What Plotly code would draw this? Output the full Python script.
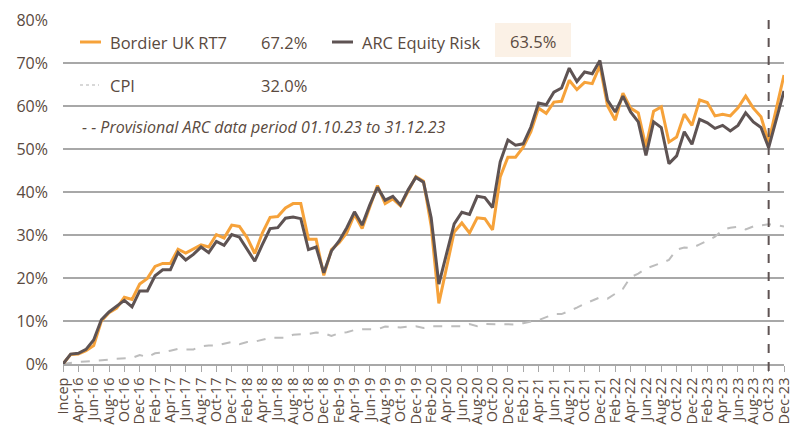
import plotly.graph_objects as go

months = ["Jan", "Feb", "Mar", "Apr", "May", "Jun", "Jul", "Aug", "Sep", "Oct", "Nov", "Dec"]
categories = []
for y in range(2016, 2024):
    for m in range(12):
        if y == 2016 and m == 0:
            continue
        categories.append(f"{months[m]}-{str(y)[2:]}")
categories[0] = "Incep"

bordier = [0.0, 2.2, 2.3, 3.1, 4.3, 10.0, 11.9, 13.0, 15.5, 15.0,
           18.6, 19.9, 22.7, 23.4, 23.4, 26.7, 25.8, 26.7, 27.7, 27.2,
           30.1, 29.3, 32.3, 32.0, 29.4, 25.7, 30.5, 34.1, 34.3, 36.3,
           37.3, 37.3, 29.0, 29.0, 20.6, 26.6, 28.2, 30.5, 34.8, 31.5,
           36.6, 41.5, 37.3, 38.4, 36.8, 40.3, 43.6, 42.5, 32.1, 14.1,
           22.5, 30.7, 32.8, 30.5, 34.0, 33.8, 31.2, 43.5, 48.1, 48.1,
           50.4, 54.0, 59.5, 58.3, 60.9, 61.1, 66.0, 63.8, 65.5, 65.2,
           69.4, 60.0, 56.7, 63.0, 59.5, 58.4, 50.5, 58.8, 59.8, 51.6,
           52.8, 58.1, 55.5, 61.4, 60.8, 57.7, 58.1, 57.7, 59.6, 62.3,
           59.5, 57.5, 51.6, 59.5, 67.2]

arc = [0.0, 2.3, 2.5, 3.4, 5.6, 10.3, 12.1, 13.5, 14.8, 13.3,
       17.0, 17.0, 20.5, 21.9, 21.9, 25.9, 24.2, 25.5, 27.2, 25.9,
       28.5, 27.6, 30.1, 29.5, 26.8, 23.9, 27.8, 31.5, 31.7, 33.9,
       34.2, 33.8, 26.6, 27.2, 21.2, 26.3, 28.6, 31.7, 35.4, 32.3,
       37.0, 41.1, 38.1, 39.0, 37.0, 40.5, 43.4, 42.3, 34.0, 18.6,
       25.6, 32.6, 35.3, 34.8, 39.0, 38.7, 36.4, 47.0, 52.1, 50.9,
       51.2, 55.1, 60.7, 60.3, 63.2, 64.2, 68.8, 65.7, 67.9, 67.5,
       70.6, 61.3, 58.6, 62.3, 58.6, 56.3, 48.5, 56.3, 55.0, 46.6,
       48.4, 54.0, 51.1, 56.9, 56.1, 54.8, 55.5, 54.2, 55.5, 58.4,
       56.3, 55.0, 50.3, 56.7, 63.5]

cpi = [0.0, 0.3, 0.5, 0.6, 0.7, 0.8, 1.0, 1.25, 1.3, 1.4,
       2.1, 1.6, 2.5, 2.7, 3.1, 3.5, 3.4, 3.4, 4.1, 4.3,
       4.3, 4.7, 5.1, 4.6, 5.1, 5.2, 5.7, 6.1, 6.1, 6.1,
       6.8, 6.9, 7.0, 7.3, 7.2, 6.5, 7.2, 7.4, 7.9, 8.1,
       8.1, 8.1, 8.7, 8.6, 8.5, 8.7, 8.8, 8.4, 8.8, 8.8,
       8.8, 8.8, 8.8, 9.3, 8.8, 9.3, 9.3, 9.2, 9.2, 9.2,
       9.5, 9.8, 10.2, 10.9, 11.6, 11.6, 12.3, 13.1, 14.0, 14.8,
       15.5, 15.2, 16.3, 17.5, 20.2, 21.0, 22.2, 22.8, 23.5, 24.2,
       26.6, 27.1, 27.0, 27.8, 28.7, 29.6, 31.2, 31.7, 31.9, 31.3,
       32.0, 32.3, 32.5, 32.3, 32.0]

series_names = ["Bordier UK RT7", "ARC Equity Risk", "CPI"]
series_labels = ["67.2%", "63.5%", "32.0%"]
provisional_note = "Provisional ARC data period 01.10.23 to 31.12.23"
provisional_start = "Oct-23"

ORANGE = "#F6A23A"
DARK = "#5E5353"
CPIC = "#BDBDBD"
TEXT = "#5A4A40"
GRID = "#A8A8A8"
FONT = "Open Sans"

x = list(range(len(categories)))

fig = go.Figure()
fig.add_trace(go.Scatter(x=x, y=cpi, mode="lines", name=series_names[2],
                         line=dict(color=CPIC, width=2, dash="dash")))
fig.add_trace(go.Scatter(x=x, y=bordier, mode="lines", name=series_names[0],
                         line=dict(color=ORANGE, width=3)))
fig.add_trace(go.Scatter(x=x, y=arc, mode="lines", name=series_names[1],
                         line=dict(color=DARK, width=3)))

W, H = 810, 432
L, R, T, B = 63, 784, 20, 364


def px(v):
    return (v - L) / (R - L)


def py(v):
    return (B - v) / (B - T)


shapes = []
annotations = []

xi = categories.index(provisional_start)
shapes.append(dict(type="line", xref="x", yref="paper", x0=xi, x1=xi, y0=-0.02, y1=1,
                   line=dict(color=DARK, width=2, dash="dash")))

shapes.append(dict(type="rect", xref="paper", yref="paper", x0=px(495), x1=px(571),
                   y0=py(57), y1=py(23), fillcolor="#FBF1E6", line=dict(width=0), layer="below"))

shapes.append(dict(type="line", xref="paper", yref="paper", x0=px(80), x1=px(101),
                   y0=py(42), y1=py(42), line=dict(color=ORANGE, width=3)))
shapes.append(dict(type="line", xref="paper", yref="paper", x0=px(332), x1=px(353),
                   y0=py(42), y1=py(42), line=dict(color=DARK, width=3)))
shapes.append(dict(type="line", xref="paper", yref="paper", x0=px(80), x1=px(99),
                   y0=py(85), y1=py(85), line=dict(color="#D8D8D8", width=2, dash="dot")))


def txt(xp, yp, s, italic=False, size=16.5):
    annotations.append(dict(xref="paper", yref="paper", x=px(xp), y=py(yp), text=s,
                            showarrow=False, xanchor="left", yanchor="middle",
                            font=dict(family=FONT, size=size, color=TEXT,
                                      style="italic" if italic else "normal")))


txt(108, 42, series_names[0])
txt(259, 42, series_labels[0])
txt(360, 42, series_names[1])
txt(508, 41, series_labels[1])
txt(108, 85, series_names[2])
txt(259, 85, series_labels[2])
txt(80, 127, "- - " + provisional_note, italic=True, size=16)

fig.update_layout(
    width=W, height=H,
    margin=dict(l=L, r=W - R, t=T, b=H - B, autoexpand=False),
    paper_bgcolor="white", plot_bgcolor="white",
    showlegend=False,
    shapes=shapes, annotations=annotations,
    font=dict(family=FONT, color=TEXT),
)
fig.update_xaxes(
    range=[0, len(categories) - 1],
    tickmode="array", tickvals=x[::2], ticktext=categories[::2],
    tickangle=-90, tickfont=dict(family=FONT, size=14.5, color=TEXT),
    showgrid=False, showline=True, linecolor=GRID, linewidth=1.5,
    ticks="outside", ticklen=6, tickcolor=GRID, tickwidth=1,
    zeroline=False, automargin=False,
)
fig.update_yaxes(
    range=[0, 80], dtick=10, ticksuffix="%",
    tickfont=dict(family=FONT, size=16, color=TEXT),
    showgrid=True, gridcolor=GRID, gridwidth=1.5,
    zeroline=False, showline=False, ticks="", ticklabelstandoff=14,
    automargin=False,
)

fig.write_html("out.html", config={"displayModeBar": False},
               post_script="document.body.style.margin='0';document.body.style.padding='0';")
